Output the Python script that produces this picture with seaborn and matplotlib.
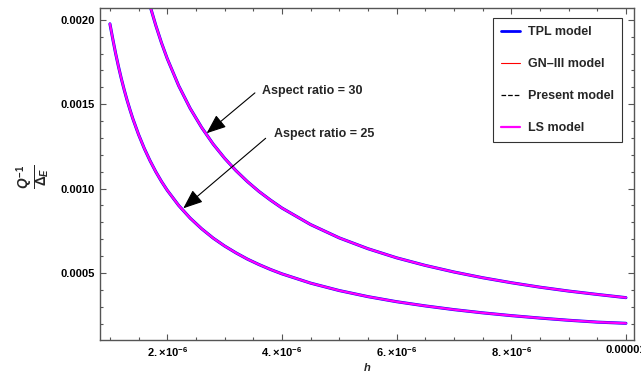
import numpy as np
import pandas as pd
import matplotlib
matplotlib.use("Agg")
import matplotlib.pyplot as plt
import seaborn as sns
from matplotlib.lines import Line2D
from matplotlib.ticker import MultipleLocator

# ---- data ----
h_um = [1.0, 1.05, 1.1, 1.15, 1.2, 1.25, 1.3, 1.35, 1.4, 1.5, 1.6, 1.7, 1.8, 1.9,
        2.0, 2.2, 2.4, 2.6, 2.8, 3.0, 3.2, 3.4, 3.6, 3.8, 4.0, 4.5, 5.0, 5.5,
        6.0, 6.5, 7.0, 7.5, 8.0, 8.5, 9.0, 9.5, 10.0]
q_ar30 = [3.54, 3.371, 3.218, 3.078, 2.95, 2.832, 2.723, 2.622, 2.529, 2.36,
          2.2125, 2.082, 1.967, 1.863, 1.77, 1.609, 1.475, 1.362, 1.264, 1.18,
          1.106, 1.041, 0.983, 0.932, 0.885, 0.787, 0.708, 0.644, 0.59, 0.545,
          0.506, 0.472, 0.4425, 0.416, 0.393, 0.373, 0.354]
q_ar25 = [1.976, 1.886, 1.80, 1.722, 1.65, 1.584, 1.523, 1.467, 1.414, 1.32,
          1.2375, 1.165, 1.10, 1.042, 0.99, 0.90, 0.825, 0.762, 0.707, 0.66,
          0.619, 0.582, 0.55, 0.521, 0.495, 0.44, 0.396, 0.36, 0.33, 0.305,
          0.283, 0.264, 0.2475, 0.233, 0.22, 0.209, 0.202]
models = ["TPL model", "GN\u2013III model", "Present model", "LS model"]
model_colors = ["#0000ff", "#ff0000", "#000000", "#ff00ff"]
model_styles = ["-", "-", "--", "-"]
model_widths = [2.2, 0.8, 0.8, 1.6]
x_ticks = [2e-6, 4e-6, 6e-6, 8e-6, 1e-5]
x_ticklabels = [r"$2.\!\times\!10^{-6}$", r"$4.\!\times\!10^{-6}$",
                r"$6.\!\times\!10^{-6}$", r"$8.\!\times\!10^{-6}$", "0.00001"]
y_ticks = [0.0005, 0.0010, 0.0015, 0.0020]
y_ticklabels = ["0.0005", "0.0010", "0.0015", "0.0020"]

h = np.array(h_um) * 1e-6
curves = {"AR30": np.array(q_ar30) * 1e-3, "AR25": np.array(q_ar25) * 1e-3}

sns.set_theme(style="ticks")
plt.rcParams["font.family"] = ["Liberation Sans", "DejaVu Sans"]
plt.rcParams["font.weight"] = "bold"
plt.rcParams["mathtext.fontset"] = "custom"
plt.rcParams["mathtext.rm"] = "Liberation Sans:bold"
plt.rcParams["mathtext.bf"] = "Liberation Sans:bold"
plt.rcParams["mathtext.it"] = "Liberation Sans:bold:italic"
plt.rcParams["mathtext.sf"] = "Liberation Sans:bold"

fig = plt.figure(figsize=(6.41, 3.75), dpi=100)
ax = fig.add_axes([0.156, 0.0933, 0.833, 0.8854])

for m, c, ls, lw in zip(models, model_colors, model_styles, model_widths):
    for key, vals in curves.items():
        df = pd.DataFrame({"h": h, "q": vals})
        sns.lineplot(data=df, x="h", y="q", ax=ax, color=c, linestyle=ls,
                     linewidth=lw, legend=False, sort=False)

ax.set_xlim(0.827e-6, 1.014e-5)
ax.set_ylim(0.000103, 0.00207)
ax.set_xticks(x_ticks)
ax.set_xticklabels(x_ticklabels)
ax.set_yticks(y_ticks)
ax.set_yticklabels(y_ticklabels)
ax.xaxis.set_minor_locator(MultipleLocator(0.5e-6))
ax.yaxis.set_minor_locator(MultipleLocator(0.0001))
ax.tick_params(which="both", direction="in", top=True, right=True,
               colors="#555555", labelcolor="black", labelsize=8, width=0.8)
ax.tick_params(which="major", length=4)
ax.tick_params(which="minor", length=2)
for lab in ax.get_xticklabels() + ax.get_yticklabels():
    lab.set_fontweight("bold")
for s in ax.spines.values():
    s.set_color("#555555")
    s.set_linewidth(1.0)

ax.set_xlabel(r"$\mathit{h}$", fontsize=8, labelpad=2)
ax.set_ylabel("")
fig.text(34 / 641, 1 - 177 / 375, r"$\frac{Q^{-1}}{\Delta_E}$", rotation=90,
         ha="center", va="center", fontsize=14)

arrow = dict(arrowstyle="-|>,head_length=1.0,head_width=0.4", color="black",
             lw=0.8, shrinkA=0, shrinkB=0)
ax.annotate("", xy=(2.687e-6, 0.001328), xytext=(3.529e-6, 0.001567),
            arrowprops=arrow)
ax.text(3.655e-6, 0.001581, "Aspect ratio = 30", fontsize=9,
        fontweight="bold", va="center", ha="left")
ax.annotate("", xy=(2.279e-6, 0.000883), xytext=(3.716e-6, 0.001298),
            arrowprops=arrow)
ax.text(3.861e-6, 0.001324, "Aspect ratio = 25", fontsize=9,
        fontweight="bold", va="center", ha="left")

leg_widths = [2.0, 0.8, 0.9, 1.6]
handles = [Line2D([], [], color=c, linestyle=ls, linewidth=w)
           for c, ls, w in zip(model_colors, model_styles, leg_widths)]
leg = ax.legend(handles, models, loc="upper right",
                bbox_to_anchor=(622 / 641, 1 - 18 / 375),
                bbox_transform=fig.transFigure, borderaxespad=0,
                fontsize=9, frameon=True,
                fancybox=False, edgecolor="black", handlelength=1.55,
                labelspacing=1.6, borderpad=0.65, handletextpad=0.6)
leg.get_frame().set_linewidth(0.8)
for t in leg.get_texts():
    t.set_fontweight("bold")

fig.savefig("out.png", dpi=100)
